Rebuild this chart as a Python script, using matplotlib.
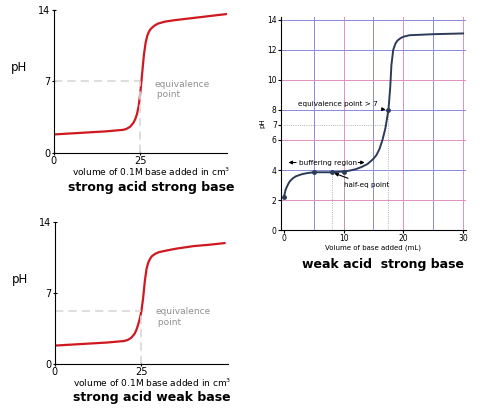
import matplotlib
matplotlib.use("Agg")
import matplotlib.pyplot as plt

sasb_x = [0,5,10,15,20,21,22,23,23.5,24,24.5,25,25.5,26,26.5,27,27.5,28,29,30,32,35,40,45,50]
sasb_y = [1.8,1.9,2.0,2.1,2.25,2.35,2.55,2.95,3.3,3.8,4.6,6.0,7.8,9.6,10.8,11.5,11.9,12.15,12.45,12.65,12.85,13.0,13.2,13.4,13.6]
sawb_x = [0,5,10,15,20,21,22,23,23.5,24,24.5,25,25.5,26,26.5,27,27.5,28,29,30,32,35,40,45,49]
sawb_y = [1.8,1.9,2.0,2.1,2.25,2.35,2.55,2.95,3.3,3.8,4.4,5.2,6.5,8.2,9.4,10.0,10.35,10.6,10.85,11.0,11.15,11.35,11.6,11.75,11.9]
wasb_x = [0,0.3,0.7,1,1.5,2,3,4,5,8,10,11,12,13,14,15,15.5,16,16.5,17,17.5,17.8,18,18.3,18.7,19,19.5,20,21,25,30]
wasb_y = [2.2,2.7,3.05,3.25,3.45,3.58,3.72,3.8,3.85,3.85,3.9,3.96,4.05,4.2,4.4,4.75,5.0,5.4,6.0,6.8,8.0,9.5,11,12.0,12.45,12.62,12.78,12.88,12.98,13.05,13.1]
wasb_pts_x = [0,5,8,10,17.5]
wasb_pts_y = [2.2,3.85,3.85,3.9,8.0]
eq1 = (25, 7)
eq2 = (25, 5.2)

fig = plt.figure(figsize=(4.81,4.13), dpi=100)
red = "#d01820"
grey = "#d8d8d8"

def left_panel(rect, xs, ys, eq, title):
    ax = fig.add_axes(rect)
    ax.plot(xs, ys, color=red, lw=1.6)
    ax.plot([0, eq[0]], [eq[1], eq[1]], color=grey, lw=1.2, ls=(0,(5,3)))
    ax.plot([eq[0], eq[0]], [0, eq[1]], color=grey, lw=1.2, ls=(0,(5,3)))
    ax.set_xlim(0, 50); ax.set_ylim(0, 14)
    for s in ("top","right"): ax.spines[s].set_visible(False)
    ax.set_xticks([0,25]); ax.set_yticks([0,7,14])
    ax.tick_params(labelsize=7, length=3, direction="inout", pad=1)
    ax.text(-0.2, 0.57, "pH", transform=ax.transAxes, fontsize=8.5, ha="center")
    ax.text(29, 6.2 if eq[1] == 7 else 4.6, "equivalence\n point", color="#909090", fontsize=6.5, va="center")
    ax.text(0.56, -0.13, "volume of 0.1M base added in cm$^3$", transform=ax.transAxes,
            fontsize=6.5, ha="center", va="center")
    ax.text(0.56, -0.24, title, transform=ax.transAxes, fontsize=9, weight="bold",
            ha="center", va="center")

left_panel([0.112, 0.630, 0.360, 0.346], sasb_x, sasb_y, eq1, "strong acid strong base")
left_panel([0.114, 0.119, 0.360, 0.344], sawb_x, sawb_y, eq2, "strong acid weak base")

ax = fig.add_axes([0.584, 0.443, 0.385, 0.516])
blue = "#8a8ae0"; pink = "#e090c0"
for i, v in enumerate(range(5, 31, 5)):
    ax.axvline(v, color=blue if i % 2 == 0 else pink, lw=0.7, zorder=0)
for v in [2, 4, 6, 8, 10, 12, 14]:
    ax.axhline(v, color=blue if v % 4 == 0 or v == 14 else pink, lw=0.7, zorder=0)
ax.plot([0, 17.5], [7, 7], color="#999999", lw=0.6, ls=":")
for xv, yv in zip(wasb_pts_x[1:], wasb_pts_y[1:]):
    ax.plot([xv, xv], [0, yv], color="#999999", lw=0.6, ls=":")
ax.plot(wasb_x, wasb_y, color="#2c3c58", lw=1.4)
ax.plot(wasb_pts_x, wasb_pts_y, "o", color="#2c3c58", ms=2.5)
ax.set_xlim(-0.5, 30.5); ax.set_ylim(0, 14.2)
ax.set_xticks([0,10,20,30]); ax.set_yticks([0,2,4,6,7,8,10,12,14])
ax.tick_params(labelsize=5.5, length=2, pad=1)
for s in ("top","right"): ax.spines[s].set_visible(False)
ax.set_ylabel("pH", fontsize=5, labelpad=1)
ax.set_xlabel("Volume of base added (mL)", fontsize=5, labelpad=1)
ap = dict(arrowstyle="-|>", color="black", lw=0.8, mutation_scale=5)
ax.annotate("equivalence point > 7", xy=(17.5, 8), xytext=(2.3, 8.4), fontsize=5.2, va="center", arrowprops=ap)
ax.annotate("", xy=(0.3, 4.5), xytext=(2.5, 4.5), arrowprops=ap)
ax.annotate("", xy=(14, 4.5), xytext=(12, 4.5), arrowprops=ap)
ax.text(2.6, 4.5, "buffering region", fontsize=5.2, va="center")
ax.annotate("half-eq point", xy=(8, 3.85), xytext=(10, 3.0), fontsize=5.2, va="center", arrowprops=ap)
ax.text(0.55, -0.16, "weak acid  strong base", transform=ax.transAxes, fontsize=9,
        weight="bold", ha="center", va="center")

fig.savefig("out.png", dpi=100)
